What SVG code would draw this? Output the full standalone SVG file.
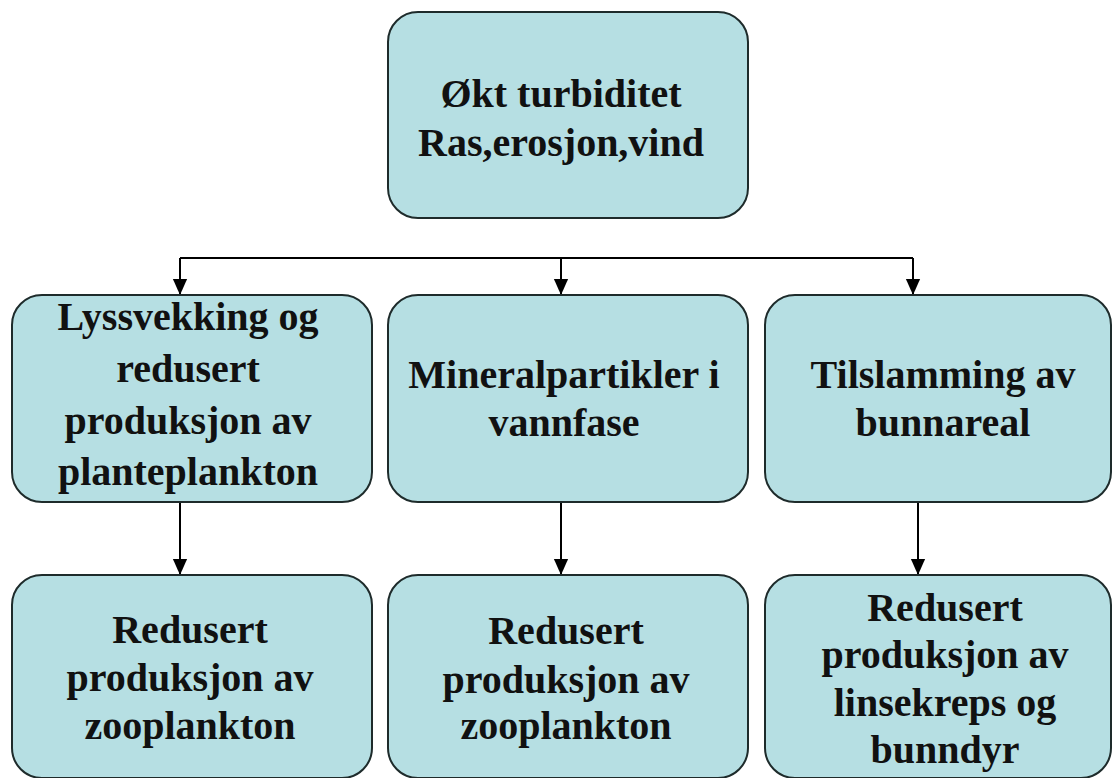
<svg xmlns="http://www.w3.org/2000/svg" width="1113" height="778" viewBox="0 0 1113 778">
<style>
.box{fill:#b6dfe3;stroke:#1e2b2b;stroke-width:2}
.t{font-family:"Liberation Serif","Times New Roman",serif;font-weight:bold;font-size:40px;fill:#111;text-anchor:middle}
.c{stroke:#000;stroke-width:2;fill:none}
</style>
<defs>
<marker id="ah" markerWidth="16" markerHeight="18" refX="18" refY="8" orient="auto" markerUnits="userSpaceOnUse" viewBox="0 0 18 16">
<path d="M0,0 L18,8 L0,16 z" fill="#000"/>
</marker>
</defs>
<rect width="1113" height="778" fill="#fff"/>
<g id="connectors">
<path class="c" d="M180,258 H913"/>
<path class="c" d="M180,258 V295" marker-end="url(#ah)"/>
<path class="c" d="M561,258 V295" marker-end="url(#ah)"/>
<path class="c" d="M913,258 V295" marker-end="url(#ah)"/>
<path class="c" d="M180,502 V575" marker-end="url(#ah)"/>
<path class="c" d="M561,502 V575" marker-end="url(#ah)"/>
<path class="c" d="M918,502 V575" marker-end="url(#ah)"/>
</g>
<g id="n0">
<rect class="box" x="388" y="12" width="360" height="206" rx="30"/>
<text class="t" x="561" y="107">Økt turbiditet</text>
<text class="t" x="561" y="156">Ras,erosjon,vind</text>
</g>
<g id="n1">
<rect class="box" x="12" y="295" width="360" height="207" rx="30"/>
<text class="t" x="188" y="330">Lyssvekking og</text>
<text class="t" x="188" y="382">redusert</text>
<text class="t" x="188" y="434">produksjon av</text>
<text class="t" x="188" y="485">planteplankton</text>
</g>
<g id="n2">
<rect class="box" x="388" y="295" width="360" height="207" rx="30"/>
<text class="t" x="564" y="388">Mineralpartikler i</text>
<text class="t" x="564" y="436">vannfase</text>
</g>
<g id="n3">
<rect class="box" x="765" y="295" width="346" height="207" rx="30"/>
<text class="t" x="943" y="388">Tilslamming av</text>
<text class="t" x="943" y="436">bunnareal</text>
</g>
<g id="n4">
<rect class="box" x="12" y="575" width="360" height="203" rx="30"/>
<text class="t" x="190" y="643">Redusert</text>
<text class="t" x="190" y="691">produksjon av</text>
<text class="t" x="190" y="739">zooplankton</text>
</g>
<g id="n5">
<rect class="box" x="388" y="575" width="360" height="203" rx="30"/>
<text class="t" x="566" y="644">Redusert</text>
<text class="t" x="566" y="693">produksjon av</text>
<text class="t" x="566" y="739">zooplankton</text>
</g>
<g id="n6">
<rect class="box" x="765" y="575" width="346" height="203" rx="30"/>
<text class="t" x="945" y="621">Redusert</text>
<text class="t" x="945" y="668">produksjon av</text>
<text class="t" x="945" y="716">linsekreps og</text>
<text class="t" x="945" y="763">bunndyr</text>
</g>
</svg>
